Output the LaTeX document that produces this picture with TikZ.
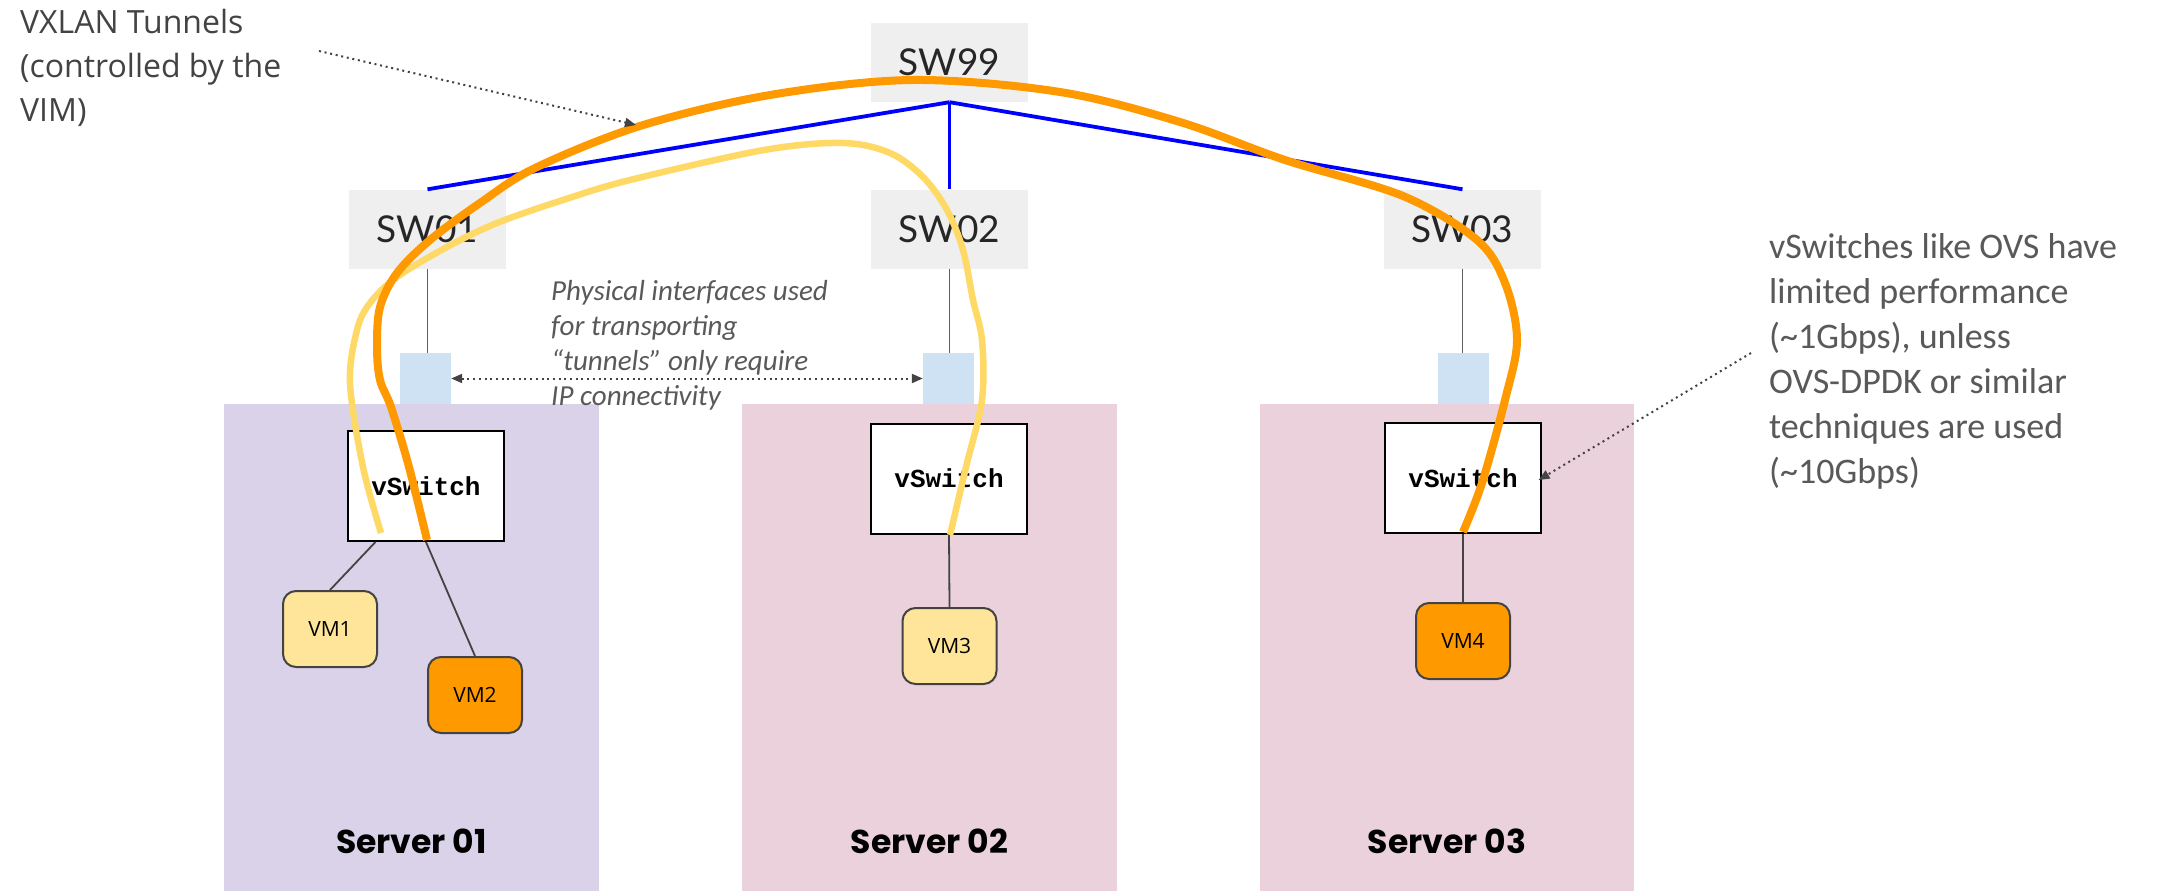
\documentclass[tikz,border=0pt]{standalone}
\usepackage{fontspec}
\setmainfont{Carlito}
\setmonofont{Liberation Mono}
\newfontfamily\opensans{Open Sans}
\newfontfamily\poppins{Poppins}
\newfontfamily\lato{Lato}
\usetikzlibrary{arrows.meta,calc}

\definecolor{srvlav}{HTML}{D9D2E9}
\definecolor{srvpink}{HTML}{EAD1DC}
\definecolor{swgray}{HTML}{EFEFEF}
\definecolor{ifblue}{HTML}{CFE2F3}
\definecolor{vmyellow}{HTML}{FFE599}
\definecolor{vmorange}{HTML}{FF9900}
\definecolor{tunorange}{HTML}{FF9900}
\definecolor{tunyellow}{HTML}{FFD966}
\definecolor{notegray}{HTML}{595959}
\definecolor{linkgray}{HTML}{434343}
\definecolor{uplinkblue}{HTML}{0000FF}

\tikzset{
  serverbg/.style={fill=#1, draw=none, minimum width=374.5pt, minimum height=487pt,
    anchor=north west, inner sep=0pt},
  serverlabel/.style={anchor=base, inner sep=0pt, font=\poppins\bfseries\fontsize{33}{38}\selectfont},
  switchbox/.style={fill=swgray, minimum width=157pt, minimum height=79pt, inner sep=0pt,
    font=\lato\fontsize{37}{42}\selectfont, text=black!85},
  ifbox/.style={fill=ifblue, minimum width=51pt, minimum height=51pt, inner sep=0pt},
  vswitch/.style={draw=black, line width=2pt, fill=white, minimum width=156pt,
    minimum height=110pt, inner sep=0pt, font=\ttfamily\bfseries\fontsize{26}{30}\selectfont},
  vmbox/.style={draw=linkgray, line width=2pt, rounded corners=13pt, fill=#1,
    minimum width=94pt, minimum height=76pt, inner sep=0pt,
    font=\opensans\fontsize{21}{24}\selectfont},
  uplink/.style={draw=uplinkblue, line width=3.8pt},
  phys/.style={draw=linkgray!85, line width=1.5pt},
  vmlink/.style={draw=linkgray, line width=1.8pt},
  note/.style={text=notegray, align=left, inner sep=0pt, anchor=north west},
  dotline/.style={draw=linkgray, line width=2pt, dash pattern=on 2pt off 3.7pt},
  tiphead/.style={-{Triangle[length=11pt,width=9pt,fill=linkgray]}},
  tunnel/.style={draw=#1, line join=round},
}

\begin{document}
\begin{tikzpicture}[x=1pt,y=-1pt]
\useasboundingbox (0,0) rectangle (2159,891);
\fill[white] (0,0) rectangle (2159,891);

% servers
\node[serverbg=srvlav]  (srv1) at (224,404) {};
\node[serverbg=srvpink] (srv2) at (742,404) {};
\node[serverbg=srvpink] (srv3) at (1259.5,404) {};
\node[serverlabel] (srv1label) at ($(srv1.south)+(0,-38)$) {Server 01};
\node[serverlabel] (srv2label) at ($(srv2.south)+(0,-38)$) {Server 02};
\node[serverlabel] (srv3label) at ($(srv3.south)+(0,-38)$) {Server 03};

% physical switches
\node[switchbox] (sw99) at (949.5,62.5) {SW99};
\node[switchbox] (sw01) at (427.5,229) {SW01};
\node[switchbox] (sw02) at (949.5,229) {SW02};
\node[switchbox] (sw03) at (1462.5,229) {SW03};

\draw[uplink] (sw99.south) -- (sw01.north);
\draw[uplink] (sw99.south) -- (sw02.north);
\draw[uplink] (sw99.south) -- (sw03.north);

% physical interfaces
\node[ifbox] (if1) at (425.5,378.5) {};
\node[ifbox] (if2) at (948.5,378.5) {};
\node[ifbox] (if3) at (1463.5,378.5) {};

\draw[phys] (sw01.south) -- (sw01.south |- if1.north);
\draw[phys] (sw02.south) -- (sw02.south |- if2.north);
\draw[phys] (sw03.south) -- (sw03.south |- if3.north);

% virtual switches
\node[vswitch] (vs1) at (426,486) {vSwitch};
\node[vswitch] (vs2) at (949,478.5) {vSwitch};
\node[vswitch] (vs3) at (1463,478) {vSwitch};

% virtual machines
\node[vmbox=vmyellow] (vm1) at (330,629) {VM1};
\node[vmbox=vmorange] (vm2) at (475,695) {VM2};
\node[vmbox=vmyellow] (vm3) at (949.5,646) {VM3};
\node[vmbox=vmorange] (vm4) at (1463,641) {VM4};

\draw[vmlink] ($(vs1.south west)!0.18!(vs1.south east)$) -- (vm1.north);
\draw[vmlink] (vs1.south) -- (vm2.north);
\draw[vmlink] (vs2.south) -- (vm3.north);
\draw[vmlink] (vs3.south) -- (vm4.north);

% VXLAN tunnels
\draw[tunnel=tunyellow, line width=6.5pt] plot[smooth, tension=0.55] coordinates {
  (381,533) (363,467) (350,383) (357,330) (370,303) (397,277) (447,247)
  (497,223) (563,200) (630,180) (764,150) (843,143) (890,153) (923,177)
  (947,210) (963,250) (973,300) (982,340) (982,400) (966,467) (950,535)};
\draw[tunnel=tunorange, line width=8pt] plot[smooth, tension=0.55] coordinates {
  (427,540) (409,467) (391,407) (380,380) (377,347) (380,307) (397,273)
  (430,240) (480,203) (535,168) (640,126) (770,95) (913,80) (1060,92)
  (1180,122) (1285,160) (1403,196) (1477,240) (1505,283) (1517,340)
  (1505,400) (1482,483) (1463,532)};

% interface reachability
\draw[dotline, {Triangle[length=11pt,width=9pt,fill=linkgray]}-{Triangle[length=11pt,width=9pt,fill=linkgray]}]
  (if1.east) -- (if2.west);
\node[note, font=\itshape\fontsize{29}{35}\selectfont] (physnote) at (551,280)
  {Physical interfaces used\\for transporting\\“tunnels” only require\\IP connectivity};

% annotations
\node[note, text=linkgray, font=\opensans\fontsize{32}{44}\selectfont] (vxlannote) at (20,9)
  {VXLAN Tunnels\\(controlled by the\\VIM)};
\coordinate (vxstart) at (319,51);
\coordinate (vxend) at (636,125);
\draw[dotline, tiphead] (vxstart) -- (vxend);

\node[note, font=\fontsize{36}{45}\selectfont] (ovsnote) at (1769,233)
  {vSwitches like OVS have\\limited performance\\(\textasciitilde1Gbps), unless\\OVS-DPDK or similar\\techniques are used\\(\textasciitilde10Gbps)};
\coordinate (ovsstart) at (1751,353);
\draw[dotline, tiphead, shorten >=-4pt] (ovsstart) -- (vs3.east);
\end{tikzpicture}
\end{document}
